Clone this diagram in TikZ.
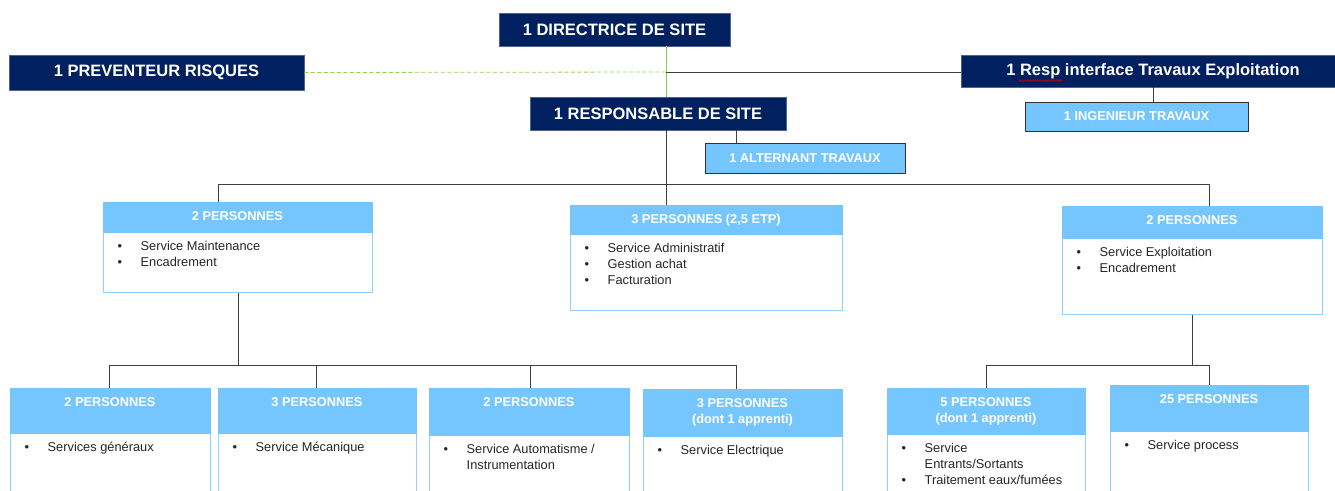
\documentclass[tikz,border=0pt]{standalone}
\usepackage{fontspec}
\setmainfont{Liberation Sans}
\usepackage{tikz}
\usetikzlibrary{positioning, fit, calc, decorations.pathmorphing}
\usepackage{xcolor}

\definecolor{marine}{HTML}{002060}
\definecolor{ciel}{HTML}{75C6FF}
\definecolor{vertclair}{HTML}{92D050}
\definecolor{trait}{HTML}{3F3F3F}

\newcommand{\grand}{\fontsize{16.5}{19}\selectfont\bfseries}
\newcommand{\moyen}{\fontsize{12.8}{16}\selectfont\bfseries}
\newcommand{\petit}{\fontsize{12.8}{16}\selectfont}
\newcommand{\puces}[1]{\begin{tabular}[t]{@{}p{23pt}@{}l@{}}#1\end{tabular}}

\begin{document}
\begin{tikzpicture}[x=1pt, y=-1pt,
            chef/.style={fill=marine, draw=marine!70!white, line width=0.6pt, text=white, font=\grand, inner sep=0pt},
            adjoint/.style={fill=ciel, draw=black!80, line width=1pt, text=white, font=\moyen, inner sep=0pt},
            tete/.style={fill=ciel, draw=ciel, line width=0.8pt, inner sep=0pt},
            corps/.style={fill=white, draw=ciel!80!white, line width=1pt, inner sep=0pt},
            titre/.style={anchor=north, align=center, text=white, font=\moyen, inner sep=0pt},
            liste/.style={anchor=base west, text=black!85, font=\petit, inner sep=0pt},
            lien/.style={draw=trait, line width=0.8pt},
            vert/.style={draw=vertclair, line width=0.8pt}]

            \useasboundingbox (0,0) rectangle (1335,490);
            \clip (0,0) rectangle (1335,490);

            % Các hộp lãnh đạo
            \node[chef, minimum width=231pt, minimum height=33pt] (dir) at (614.5,29.5) {1 DIRECTRICE DE SITE};
            \node[chef, minimum width=295pt, minimum height=35pt] (prev) at (156.5,72.5) {1 PREVENTEUR RISQUES};
            \node[chef, minimum width=256pt, minimum height=33pt] (resp) at (658,113.5) {1 RESPONSABLE DE SITE};
            \node[chef, minimum width=384pt, minimum height=32pt] (interf) at (1153,71) {1 Resp interface Travaux Exploitation};
            \draw[red!85!black, line width=0.5pt, decorate, decoration={snake, amplitude=0.9pt, segment length=2.6pt}] (1019,80.5) -- (1063,80.5);

            % Các hộp phụ
            \node[adjoint, minimum width=223pt, minimum height=29pt] (ing) at (1136.5,116.5) {1 INGENIEUR TRAVAUX};
            \node[adjoint, minimum width=200pt, minimum height=30pt] (alt) at (805,158) {1 ALTERNANT TRAVAUX};

            % Đường nối phía trên
            \coordinate (jonction) at (666,72);
            \draw[vert] (jonction |- dir.south) -- (jonction |- resp.north);
            \draw[vert, dash pattern=on 4pt off 2.5pt] (prev.east) -- (jonction);
            \draw[lien] (jonction) -- (jonction -| interf.west);
            \coordinate (k) at (1153,0);
            \draw[lien] (k |- interf.south) -- (k |- ing.north);
            \coordinate (a) at (736,0);
            \draw[lien] (a |- resp.south) -- (a |- alt.north);

            % Hộp cấp hai
            \node[corps, fit={(103,232) (372,292)}] (cG) {};
            \node[tete, fit={(103,202) (372,232)}] (tG) {};
            \node[titre] at ($(tG.north)+(0,9.5)$) {2 PERSONNES};
            \node[liste] at ($(cG.north west)+(15,18.5)$) {\puces{•&Service Maintenance\\ •&Encadrement}};

            \node[corps, fit={(570,234) (842,310)}] (cC) {};
            \node[tete, fit={(570,205) (842,234)}] (tC) {};
            \node[titre] at ($(tC.north)+(0,9.5)$) {3 PERSONNES (2,5 ETP)};
            \node[liste] at ($(cC.north west)+(15,18.5)$) {\puces{•&Service Administratif\\ •&Gestion achat\\ •&Facturation}};

            \node[corps, fit={(1062,238) (1322,314)}] (cD) {};
            \node[tete, fit={(1062,206) (1322,238)}] (tD) {};
            \node[titre] at ($(tD.north)+(0,9.5)$) {2 PERSONNES};
            \node[liste] at ($(cD.north west)+(15,18.5)$) {\puces{•&Service Exploitation\\ •&Encadrement}};

            % Nhánh chính
            \coordinate (bus) at (666,184);
            \draw[lien] (bus |- resp.south) -- (bus |- tC.north);
            \draw[lien] (218,184) coordinate (busG) -- (1209,184) coordinate (busD);
            \draw[lien] (busG) -- (busG |- tG.north);
            \draw[lien] (busD) -- (busD |- tD.north);

            % Hộp cấp ba
            \node[corps, fit={(10,433) (210,495)}] (c1) {};
            \node[tete, fit={(10,388) (210,433)}] (t1) {};
            \node[titre] at ($(t1.north)+(0,9.5)$) {2 PERSONNES};
            \node[liste] at ($(c1.north west)+(15,18.5)$) {\puces{•&Services généraux}};

            \node[corps, fit={(218,433) (416,495)}] (c2) {};
            \node[tete, fit={(218,388) (416,433)}] (t2) {};
            \node[titre] at ($(t2.north)+(0,9.5)$) {3 PERSONNES};
            \node[liste] at ($(c2.north west)+(15,18.5)$) {\puces{•&Service Mécanique}};

            \node[corps, fit={(429,435) (629,495)}] (c3) {};
            \node[tete, fit={(429,388) (629,435)}] (t3) {};
            \node[titre] at ($(t3.north)+(0,9.5)$) {2 PERSONNES};
            \node[liste] at ($(c3.north west)+(15,18.5)$) {\puces{•&Service Automatisme /\\ &Instrumentation}};

            \node[corps, fit={(643,436) (842,495)}] (c4) {};
            \node[tete, fit={(643,389) (842,436)}] (t4) {};
            \node[titre] at ($(t4.north)+(0,9.5)$) {3 PERSONNES\\(dont 1 apprenti)};
            \node[liste] at ($(c4.north west)+(15,18.5)$) {\puces{•&Service Electrique}};

            \node[corps, fit={(887,434) (1085,495)}] (c5) {};
            \node[tete, fit={(887,388) (1085,434)}] (t5) {};
            \node[titre] at ($(t5.north)+(0,9.5)$) {5 PERSONNES\\(dont 1 apprenti)};
            \node[liste] at ($(c5.north west)+(15,18.5)$) {\puces{•&Service\\ &Entrants/Sortants\\ •&Traitement eaux/fumées}};

            \node[corps, fit={(1110,431) (1308,495)}] (c6) {};
            \node[tete, fit={(1110,385) (1308,431)}] (t6) {};
            \node[titre] at ($(t6.north)+(0,9.5)$) {25 PERSONNES};
            \node[liste] at ($(c6.north west)+(15,18.5)$) {\puces{•&Service process}};

            % Nhánh bên trái
            \coordinate (g) at (238,365);
            \draw[lien] (g |- cG.south) -- (g);
            \draw[lien] (109,365) coordinate (g1) -- (736,365) coordinate (g4);
            \coordinate (g2) at (316,365);
            \coordinate (g3) at (530,365);
            \draw[lien] (g1) -- (g1 |- t1.north);
            \draw[lien] (g2) -- (g2 |- t2.north);
            \draw[lien] (g3) -- (g3 |- t3.north);
            \draw[lien] (g4) -- (g4 |- t4.north);

            % Nhánh bên phải
            \coordinate (d) at (1192,365);
            \draw[lien] (d |- cD.south) -- (d);
            \draw[lien] (986,365) coordinate (d1) -- (1209,365) coordinate (d2);
            \draw[lien] (d1) -- (d1 |- t5.north);
            \draw[lien] (d2) -- (d2 |- t6.north);

\end{tikzpicture}
\end{document}
